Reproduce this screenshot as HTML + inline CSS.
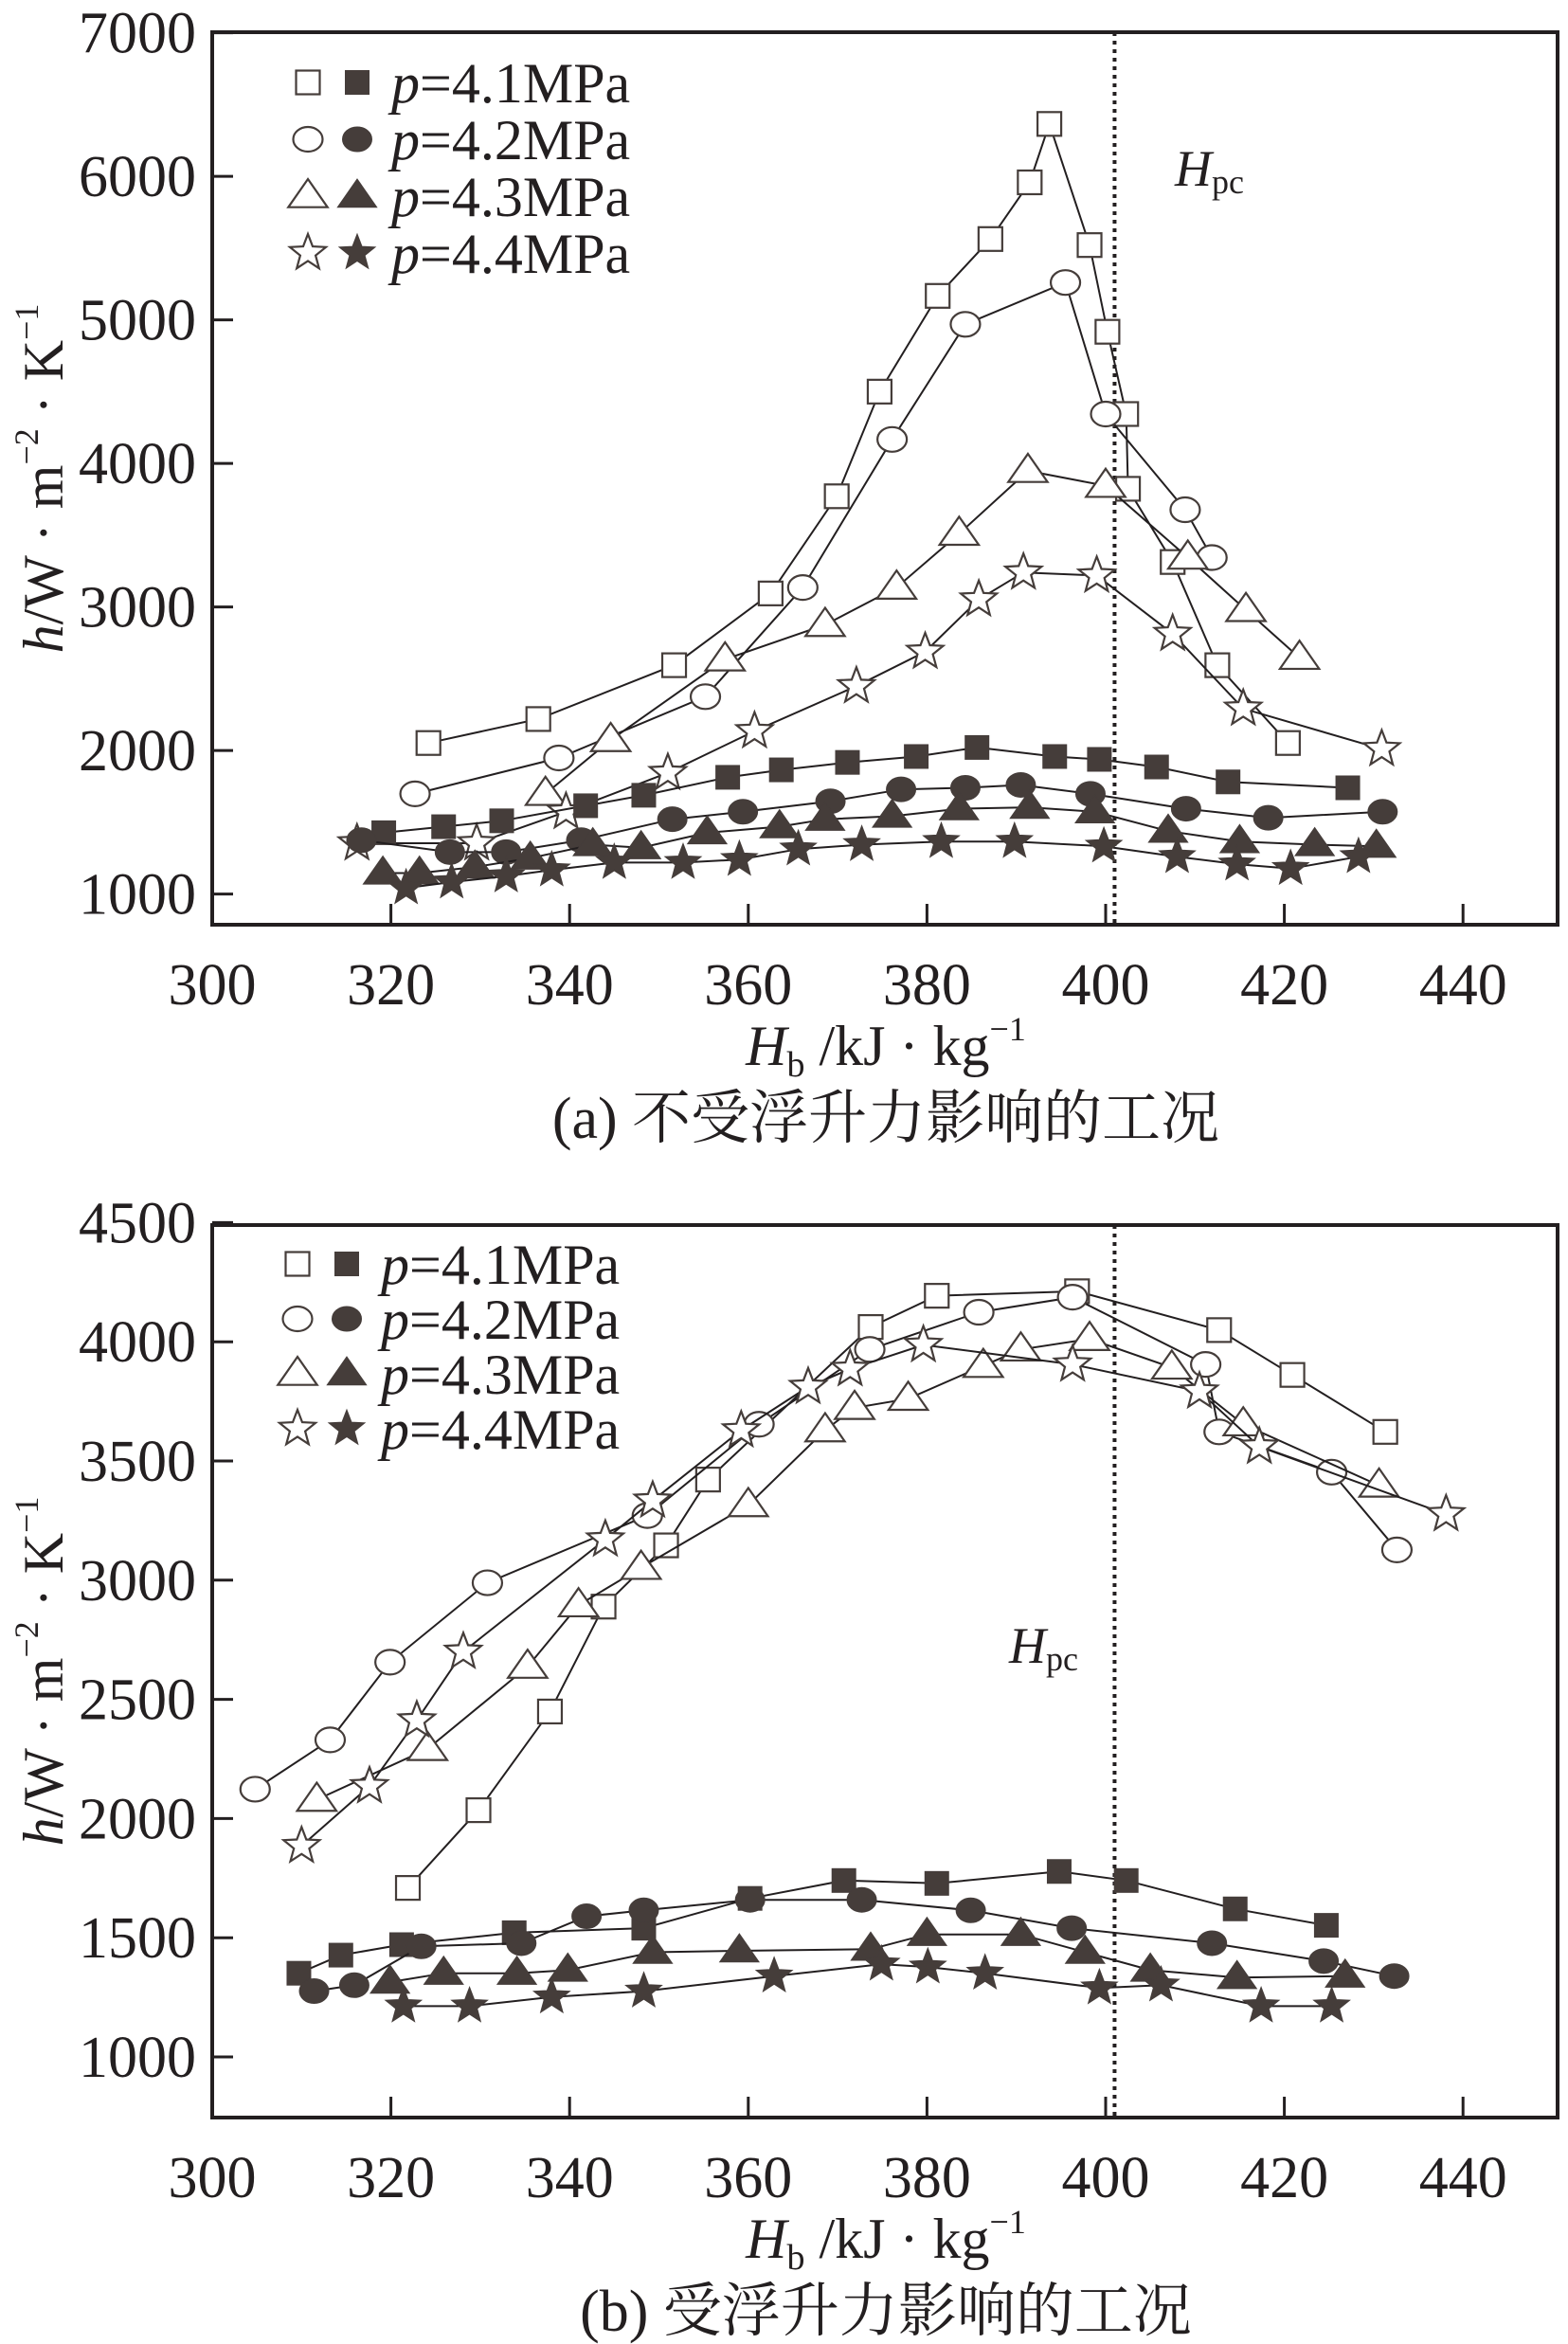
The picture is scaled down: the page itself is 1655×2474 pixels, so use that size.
<!DOCTYPE html>
<html><head><meta charset="utf-8"><style>
html,body{margin:0;padding:0;background:#fff}
svg{display:block}
text{font-family:"Liberation Serif","Noto Serif CJK SC",serif;fill:#231f20}
</style></head><body>
<svg id="fig" width="1655" height="2474" viewBox="0 0 1655 2474" xmlns="http://www.w3.org/2000/svg"></svg>
<script>
// ---- Chart (a) data ----
const aX41o=[324.2,336.5,351.7,362.5,369.9,374.7,381.2,387.1,391.5,393.7,398.2,400.2,402.3,402.5,407.5,412.5,420.4];
const aY41o=[2052,2219,2594,3094,3771,4500,5167,5563,5958,6365,5521,4917,4344,3823,3313,2594,2052];
const aX42o=[322.7,338.8,355.2,366.1,376.1,384.3,395.5,400,408.9,411.9];
const aY42o=[1698,1948,2375,3135,4167,4969,5260,4344,3677,3344];
const aX43o=[337.3,344.6,357.4,368.6,376.6,383.6,391.3,400,409.2,415.7,421.7];
const aY43o=[1698,2073,2635,2875,3135,3510,3948,3844,3344,2979,2646];
const aX44o=[316.2,329.6,339.6,351,360.7,372.1,379.8,385.8,390.8,399,407.5,415.4,430.9];
const aY44o=[1354,1354,1573,1844,2135,2448,2688,3052,3240,3219,2813,2292,2010];
const aX41f=[319.2,325.9,332.4,341.8,348.3,357.7,363.7,371.1,378.8,385.6,394.3,399.3,405.7,413.7,427.1];
const aY41f=[1427,1469,1510,1615,1688,1813,1865,1917,1958,2021,1958,1938,1885,1781,1740];
const aX42f=[316.7,326.6,332.9,341.3,351.5,359.4,369.2,377.1,384.3,390.5,398.3,409,418.2,431];
const aY42f=[1375,1292,1292,1375,1521,1573,1646,1729,1740,1760,1698,1594,1531,1573];
const aX43f=[319.1,323.2,329.4,335.6,342.6,348,355.4,363.5,368.6,376.1,383.6,391.5,398.8,407,415,423.4,430.3];
const aY43f=[1146,1146,1188,1250,1344,1323,1427,1469,1521,1542,1594,1604,1573,1438,1365,1344,1333];
const aX44f=[321.7,326.8,332.9,338,345,352.7,359,365.6,372.7,381.6,389.8,399.8,408,414.7,420.7,428.3];
const aY44f=[1042,1083,1125,1167,1219,1219,1240,1313,1344,1365,1365,1333,1260,1208,1177,1260];
const aYTicks=[1000,2000,3000,4000,5000,6000,7000];
// ---- Chart (b) data ----
const bX41o=[321.9,329.8,337.8,343.8,350.8,355.5,373.7,381.1,396.8,412.7,420.9,431.3];
const bY41o=[1709,2035,2449,2889,3146,3422,4062,4193,4212,4049,3861,3622];
const bX42o=[304.8,313.2,319.9,330.8,348.7,361.2,373.6,385.8,396.3,411.2,412.7,425.3,432.6];
const bY42o=[2123,2330,2656,2989,3271,3654,3968,4124,4187,3905,3622,3453,3127];
const bX43o=[311.7,324.1,335.3,341,348,360,368.6,371.9,377.9,386.3,390.5,398.2,407.4,415.4,430.6];
const bY43o=[2079,2292,2637,2895,3052,3315,3629,3723,3761,3899,3968,4012,3892,3654,3397];
const bX44o=[310,317.6,322.9,328.1,344,349.3,359.2,366.7,371.4,379.6,396.3,410.5,417.2,438.1];
const bY44o=[1885,2136,2412,2700,3171,3334,3629,3811,3886,3987,3905,3792,3560,3277];
const bX41f=[309.7,314.4,321.2,333.8,348.3,360.2,370.7,381.1,394.8,402.3,414.5,424.7];
const bY41f=[1351,1427,1471,1521,1540,1665,1740,1728,1778,1740,1621,1552];
const bX42f=[311.4,315.9,323.4,334.6,341.9,348.3,360.2,372.7,384.9,396.2,411.9,424.4,432.3];
const bY42f=[1276,1301,1464,1477,1590,1615,1659,1659,1615,1540,1477,1402,1339];
const bX43f=[319.9,325.9,334.1,339.8,349.3,359,373.7,380,390.5,397.7,405,414.7,426.8];
const bY43f=[1314,1351,1351,1364,1439,1445,1452,1514,1514,1439,1364,1333,1339];
const bX44f=[321.4,328.8,338,348.3,362.9,374.9,380.1,386.5,399.3,406.2,417.4,425.3];
const bY44f=[1213,1213,1251,1276,1339,1389,1377,1351,1289,1301,1213,1213];
const bYTicks=[1000,1500,2000,2500,3000,3500,4000,4500];
const xTicks=[300,320,340,360,380,400,420,440];
const legendLabels=["4.1MPa","4.2MPa","4.3MPa","4.4MPa"];
const hpcX=401;

const NS="http://www.w3.org/2000/svg";
const svg=document.getElementById('fig');
const INK="#231f20", MK="#453d3a";
function mk(tag,attrs,parent){const e=document.createElementNS(NS,tag);for(const k in attrs)e.setAttribute(k,attrs[k]);(parent||svg).appendChild(e);return e;}

function marker(g,shape,filled,cx,cy){
  const fill=filled?MK:"#fff", st=MK, sw=filled?1:2.2;
  let e;
  if(shape==='sq'){const s=12.5;e=mk('rect',{x:cx-s,y:cy-s,width:2*s,height:2*s,fill:fill,stroke:st,'stroke-width':sw},g);}
  else if(shape==='ci'){e=mk('ellipse',{cx:cx,cy:cy,rx:15.5,ry:13,fill:fill,stroke:st,'stroke-width':sw},g);}
  else if(shape==='tr'){const r=18;e=mk('polygon',{points:`${cx},${cy-r} ${cx+r*1.15},${cy+r*0.65} ${cx-r*1.15},${cy+r*0.65}`,fill:fill,stroke:st,'stroke-width':sw},g);}
  else {const R=20,r=8.5;let p=[];for(let i=0;i<10;i++){const a=-Math.PI/2+i*Math.PI/5,rr=i%2?r:R;p.push((cx+rr*Math.cos(a)).toFixed(1)+','+(cy+rr*Math.sin(a)).toFixed(1));}
    e=mk('polygon',{points:p.join(' '),fill:fill,stroke:st,'stroke-width':sw},g);}
  return e;
}

function chart(cfg){
  const L=224,R=1644,T=cfg.T,B=cfg.B;
  const xs=v=>L+(v-300)/20*188.6;
  const ys=v=>cfg.y0px-(v-cfg.yv0)*cfg.ppu;
  const g=mk('g',{});
  
  
  const dl=mk('line',{x1:xs(hpcX),x2:xs(hpcX),y1:T,y2:B,stroke:INK,'stroke-width':4,'stroke-dasharray':'4 5'},g);
  
  
  const ht=mk('text',{x:cfg.hpcLx,y:cfg.hpcLy,'font-size':54,'font-style':'italic'},g);
  ht.innerHTML='H<tspan font-size="36" font-style="normal" dy="8">pc</tspan>';
  
  
  const shapes=['sq','ci','tr','st'];
  cfg.series.forEach((s,i)=>{
    const sg=mk('g',{},g);
    
    
    const pts=s.x.map((v,j)=>xs(v).toFixed(1)+','+ys(s.y[j]).toFixed(1)).join(' ');
    const pl=mk('polyline',{points:pts,fill:'none',stroke:INK,'stroke-width':2},sg);
    
    
    s.x.forEach((v,j)=>{const m=marker(sg,shapes[s.k],s.f,xs(v),ys(s.y[j]));
      
      });
  });
  const fr=mk('rect',{x:L,y:T,width:R-L,height:B-T,fill:'none',stroke:INK,'stroke-width':4},g);
  
  
  cfg.yTicks.forEach(v=>{
    const y=ys(v);
    const tl=mk('line',{x1:L,x2:L+22,y1:y,y2:y,stroke:INK,'stroke-width':3},g);
    
    
    const t=mk('text',{x:207,y:y+21,'font-size':62,'text-anchor':'end'},g);
    t.textContent=v;
    
    
  });
  xTicks.forEach(v=>{
    const x=xs(v);
    if(v>300){const tl=mk('line',{x1:x,x2:x,y1:B,y2:B-22,stroke:INK,'stroke-width':3},g);
    
    }
    const t=mk('text',{x:x,y:B+84,'font-size':62,'text-anchor':'middle'},g);
    t.textContent=v;
    
    
  });
  const lg=mk('g',{},g);
  
  
  legendLabels.forEach((lab,i)=>{
    const y=cfg.legY+i*cfg.legDy;
    const e=mk('g',{},lg);
    
    
    marker(e,shapes[i],false,cfg.legX,y);
    marker(e,shapes[i],true,cfg.legX+52,y);
    const t=mk('text',{x:cfg.legX+88,y:y+21,'font-size':60},e);
    t.innerHTML='<tspan font-style="italic">p</tspan>=4.'+(i+1)+'MPa';
  });
  const yt=mk('text',{transform:`translate(66,${(T+B)/2}) rotate(-90)`,'font-size':60,'text-anchor':'middle'},g);
  yt.innerHTML='<tspan font-style="italic">h</tspan>/W · m<tspan font-size="36" dy="-26">−2</tspan><tspan dy="26"> · K</tspan><tspan font-size="36" dy="-26">−1</tspan>';
  
  
  const xt=mk('text',{x:935,y:B+148,'font-size':60,'text-anchor':'middle'},g);
  xt.innerHTML='<tspan font-style="italic">H</tspan><tspan font-size="38" dy="12">b</tspan><tspan dy="-12"> /kJ · kg</tspan><tspan font-size="36" dy="-26">−1</tspan>';
  
  
  const cp=mk('text',{x:935,y:B+225,'font-size':62,'text-anchor':'middle'},g);
  cp.textContent=cfg.caption;
  
  
}

chart({name:'chart-a',T:34,B:976,y0px:943.6,yv0:1000,ppu:151.5/1000,yTicks:aYTicks,
  hpcLx:1240,hpcLy:196,legX:325,legY:87,legDy:60,caption:'(a) 不受浮升力影响的工况',
  series:[{k:0,f:false,x:aX41o,y:aY41o},{k:1,f:false,x:aX42o,y:aY42o},{k:2,f:false,x:aX43o,y:aY43o},{k:3,f:false,x:aX44o,y:aY44o},
          {k:0,f:true,x:aX41f,y:aY41f},{k:1,f:true,x:aX42f,y:aY42f},{k:2,f:true,x:aX43f,y:aY43f},{k:3,f:true,x:aX44f,y:aY44f}]});
chart({name:'chart-b',T:1293,B:2235,y0px:2171,yv0:1000,ppu:125.8/500,yTicks:bYTicks,
  hpcLx:1065,hpcLy:1755,legX:314,legY:1334,legDy:58,caption:'(b) 受浮升力影响的工况',
  series:[{k:0,f:false,x:bX41o,y:bY41o},{k:1,f:false,x:bX42o,y:bY42o},{k:2,f:false,x:bX43o,y:bY43o},{k:3,f:false,x:bX44o,y:bY44o},
          {k:0,f:true,x:bX41f,y:bY41f},{k:1,f:true,x:bX42f,y:bY42f},{k:2,f:true,x:bX43f,y:bY43f},{k:3,f:true,x:bX44f,y:bY44f}]});
</script>
</body></html>
